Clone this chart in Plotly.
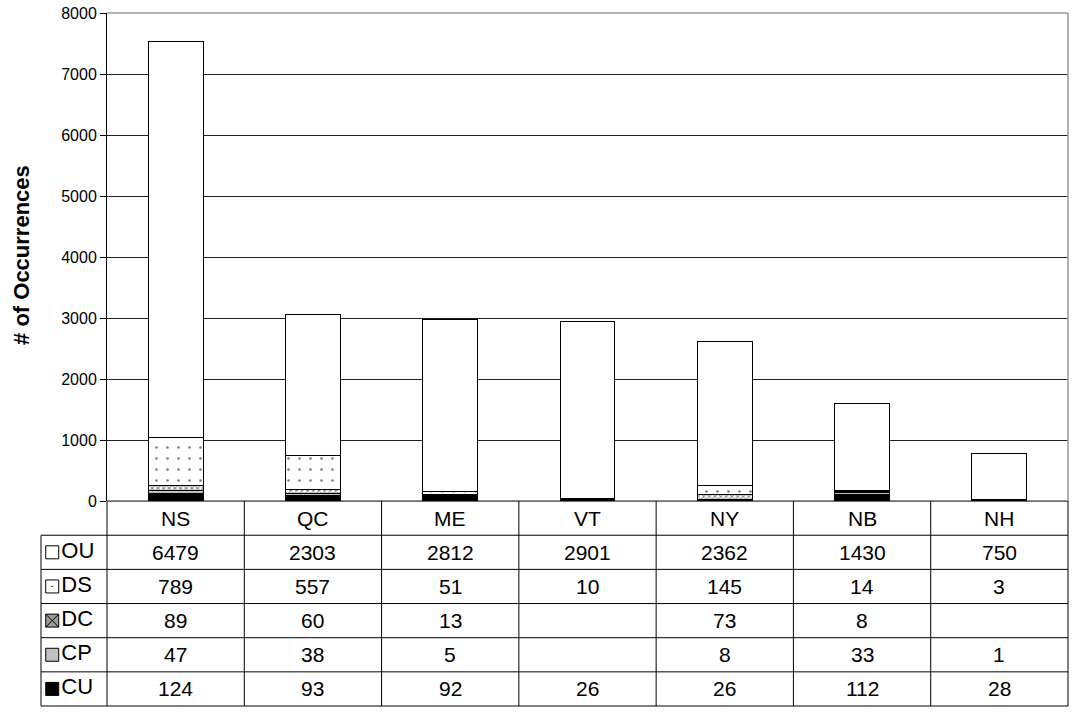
import plotly.graph_objects as go

# Provinces / states
categories = ["NS", "QC", "ME", "VT", "NY", "NB", "NH"]

# Occurrence counts per category (None = no record)
series_names = ["OU", "DS", "DC", "CP", "CU"]          # table order, top to bottom
ou = [6479, 2303, 2812, 2901, 2362, 1430, 750]
ds = [789, 557, 51, 10, 145, 14, 3]
dc = [89, 60, 13, None, 73, 8, None]
cp = [47, 38, 5, None, 8, 33, 1]
cu = [124, 93, 92, 26, 26, 112, 28]

y_ticks = [0, 1000, 2000, 3000, 4000, 5000, 6000, 7000, 8000]

series_values = {"OU": ou, "DS": ds, "DC": dc, "CP": cp, "CU": cu}

FONT = "Liberation Sans, Arial, sans-serif"
W, H = 1073, 715
M_L, M_R, M_T, M_B = 0, 5, 13, 2
PW = W - M_L - M_R
PH = H - M_T - M_B

x_left = 107 / PW          # left edge of the bar plot (paper units)
label_left = 41 / PW       # left edge of the row-label column
y_split = 207 / PH         # bottom of the bar plot / top of the table
n_rows = 6
row_h = y_split / n_rows

# bar styling, bottom to top of the stack
styles = {
    "CU": dict(color="black"),
    "CP": dict(color="#c0c0c0"),
    "DC": dict(color="white", pattern=dict(shape="x", size=4, solidity=0.45,
                                           fgcolor="black", bgcolor="white")),
    "DS": dict(color="white", pattern=dict(shape=".", size=11, solidity=0.045,
                                           fgcolor="black", bgcolor="white")),
    "OU": dict(color="white"),
}

fig = go.Figure()
for name in ["CU", "CP", "DC", "DS", "OU"]:
    st = styles[name]
    marker = dict(color=st["color"], line=dict(color="black", width=1))
    if "pattern" in st:
        marker["pattern"] = st["pattern"]
    fig.add_trace(go.Bar(
        x=categories, y=series_values[name], name=name,
        width=0.40, marker=marker, showlegend=False, hoverinfo="x+y+name",
        xaxis="x", yaxis="y",
    ))

# legend keys in the row-label column of the table
key_symbols = {
    "OU": dict(symbol="square", color="white"),
    "DS": dict(symbol="square-open-dot", color="black"),
    "DC": dict(symbol="square-x", color="#9a9a9a"),
    "CP": dict(symbol="square", color="#c0c0c0"),
    "CU": dict(symbol="square", color="black"),
}
row_centers = [k + 1.5 for k in range(len(series_names))]
fig.add_trace(go.Scatter(
    x=[0.17] * len(series_names), y=row_centers,
    mode="markers+text", text=series_names, textposition="middle right",
    textfont=dict(family=FONT, size=22, color="black"),
    marker=dict(size=13,
                symbol=[key_symbols[s]["symbol"] for s in series_names],
                color=[key_symbols[s]["color"] for s in series_names],
                line=dict(color="black", width=1)),
    showlegend=False, hoverinfo="skip", cliponaxis=False,
    xaxis="x3", yaxis="y3",
))

shapes = []
line_k = dict(color="black", width=1)

# table: horizontal rules
shapes.append(dict(type="line", xref="paper", yref="paper",
                   x0=x_left, x1=1, y0=y_split, y1=y_split, line=line_k))
for k in range(1, n_rows + 1):
    yk = y_split - k * row_h
    shapes.append(dict(type="line", xref="paper", yref="paper",
                       x0=label_left, x1=1, y0=yk, y1=yk, line=line_k))
# table: column rules
n_cat = len(categories)
for i in range(n_cat + 1):
    xi = x_left + i * (1 - x_left) / n_cat
    shapes.append(dict(type="line", xref="paper", yref="paper",
                       x0=xi, x1=xi, y0=0, y1=y_split, line=line_k))
shapes.append(dict(type="line", xref="paper", yref="paper",
                   x0=label_left, x1=label_left, y0=0, y1=y_split - row_h, line=line_k))
# plot-area frame (top and right)
shapes.append(dict(type="line", xref="paper", yref="paper",
                   x0=x_left, x1=1, y0=1, y1=1, line=dict(color="#9a9a9a", width=1.5)))
shapes.append(dict(type="line", xref="paper", yref="paper",
                   x0=1, x1=1, y0=y_split, y1=1, line=dict(color="#9a9a9a", width=1.5)))

annotations = []
# header row with category names
for c in categories:
    annotations.append(dict(x=c, xref="x", y=y_split - 0.5 * row_h, yref="paper",
                            text=c, showarrow=False, xanchor="center", yanchor="middle",
                            font=dict(family=FONT, size=21, color="black")))
# value rows
for r, s in enumerate(series_names):
    yc = y_split - (r + 1.5) * row_h
    for c, v in zip(categories, series_values[s]):
        if v is None:
            continue
        annotations.append(dict(x=c, xref="x", y=yc, yref="paper",
                                text=str(v), showarrow=False, xanchor="center",
                                yanchor="middle",
                                font=dict(family=FONT, size=21, color="black")))
# y-axis title
annotations.append(dict(x=22 / PW, xref="paper", y=(y_split + 1) / 2 + 0.003, yref="paper",
                        text="<b># of Occurrences</b>", textangle=-90, showarrow=False,
                        xanchor="center", yanchor="middle",
                        font=dict(family=FONT, size=22, color="black")))

fig.update_layout(
    width=W, height=H,
    margin=dict(l=M_L, r=M_R, t=M_T, b=M_B, pad=0),
    paper_bgcolor="white", plot_bgcolor="white",
    barmode="stack",
    xaxis=dict(domain=[x_left, 1], anchor="y", type="category",
               categoryorder="array", categoryarray=categories,
               range=[-0.5, n_cat - 0.5], showticklabels=False, ticks="",
               showgrid=False, zeroline=False, showline=False, fixedrange=True),
    yaxis=dict(domain=[y_split, 1], anchor="x", range=[0, 8000],
               tickvals=y_ticks, ticktext=[str(t) for t in y_ticks],
               ticks="outside", ticklen=6, tickcolor="black", tickwidth=1,
               tickfont=dict(family=FONT, size=16, color="black"),
               showgrid=True, gridcolor="#222222", gridwidth=1,
               zeroline=False, showline=True, linecolor="black", linewidth=1,
               fixedrange=True),
    xaxis3=dict(domain=[label_left, x_left], anchor="y3", range=[0, 1],
                visible=False, fixedrange=True),
    yaxis3=dict(domain=[0, y_split], anchor="x3", range=[n_rows, 0],
                visible=False, fixedrange=True),
    shapes=shapes,
    annotations=annotations,
    font=dict(family=FONT, color="black"),
)

fig.write_html("out.html")
